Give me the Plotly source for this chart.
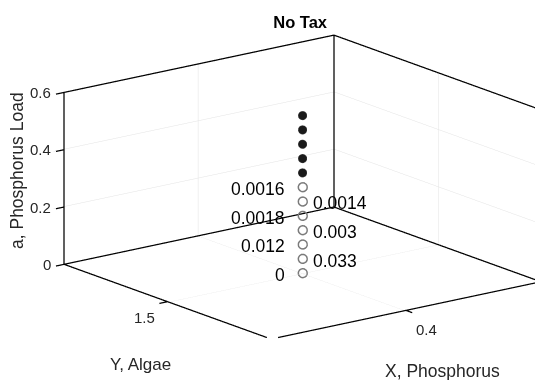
import plotly.graph_objects as go

# Single (X, Y) location, phosphorus load levels stacked along a
x_val = 0.4
y_val = 1.5
a_open = [0.0, 0.05, 0.10, 0.15, 0.20, 0.25, 0.30]
a_filled = [0.35, 0.40, 0.45, 0.50, 0.55]
open_labels = ["0", "0.033", "0.012", "0.003", "0.0018", "0.0014", "0.0016"]
label_on_left = [True, False, True, False, True, False, True]

# Axis limits and ticks
x_range = [0.35, 0.45]
y_range = [1.45, 1.55]
z_range = [0.0, 0.6]
x_ticks = [0.4]
x_ticktext = ["0.4"]
y_ticks = [1.5]
y_ticktext = ["1.5"]
z_ticks = [0.0, 0.2, 0.4, 0.6]
z_ticktext = ["0", "0.2", "0.4", "0.6"]

FONT = "Liberation Sans, Arial, sans-serif"
AXIS_GREY = "#262626"

fig = go.Figure()

dx = x_range[1] - x_range[0]
dy = y_range[1] - y_range[0]
dz = z_range[1] - z_range[0]

# Tick marks stick out of the box on the front (low x / low y) side, so the
# scene range is widened there a little to keep them from being clipped;
# a tiny margin on every side keeps the box edges clear of the clip planes.
tick_frac = 0.03
pad = 1.05 * tick_frac
eps = 0.004
scene_x_range = [x_range[0] - (pad + eps) * dx, x_range[1] + eps * dx]
scene_y_range = [y_range[0] - (pad + eps) * dy, y_range[1] + eps * dy]
scene_z_range = [z_range[0] - eps * dz, z_range[1] + eps * dz]

# Box edges on the three back planes (the three edges meeting at the
# front-top corner (xmin, ymin, zmax) are left out)
xs, ys, zs = [], [], []
corners = [(i, j, k) for i in (0, 1) for j in (0, 1) for k in (0, 1)]
front_top = (0, 0, 1)
for c1 in corners:
    for c2 in corners:
        if c1 < c2 and sum(a != b for a, b in zip(c1, c2)) == 1:
            if front_top in (c1, c2):
                continue
            for c in (c1, c2):
                xs.append(x_range[c[0]])
                ys.append(y_range[c[1]])
                zs.append(z_range[c[2]])
            xs.append(None); ys.append(None); zs.append(None)

# Outward tick marks on the three labelled axis edges
for v in z_ticks:
    xs += [x_range[0], x_range[0] - tick_frac * dx, None]
    ys += [y_range[1], y_range[1], None]
    zs += [v, v, None]
for v in y_ticks:
    xs += [x_range[0], x_range[0] - tick_frac * dx, None]
    ys += [v, v, None]
    zs += [z_range[0], z_range[0], None]
for v in x_ticks:
    xs += [v, v, None]
    ys += [y_range[0], y_range[0] - tick_frac * dy, None]
    zs += [z_range[0], z_range[0], None]

fig.add_trace(go.Scatter3d(x=xs, y=ys, z=zs, mode="lines",
                           line=dict(color="#000000", width=2.5),
                           hoverinfo="skip", showlegend=False))

fig.add_trace(go.Scatter3d(
    x=[x_val] * len(a_open), y=[y_val] * len(a_open), z=a_open,
    mode="markers",
    marker=dict(symbol="circle-open", size=5.6, color="#7a7a7a",
                line=dict(color="#7a7a7a", width=2)),
    hoverinfo="skip", showlegend=False))

fig.add_trace(go.Scatter3d(
    x=[x_val] * len(a_filled), y=[y_val] * len(a_filled), z=a_filled,
    mode="markers",
    marker=dict(symbol="circle", size=5.0, color="#1a1a1a",
                line=dict(color="#404040", width=1)),
    hoverinfo="skip", showlegend=False))

axis_common = dict(showbackground=False, gridcolor="#e3e3e3", gridwidth=1,
                   zeroline=False, showline=False, showspikes=False,
                   ticks="", showticklabels=False, title=dict(text=""))

# Gridlines only at interior ticks (the limits coincide with box edges)
z_grid = [v for v in z_ticks if z_range[0] < v < z_range[1]]

# Horizontal tick labels placed at the tick positions in data space
tick_font = dict(family=FONT, size=15, color=AXIS_GREY)
scene_annotations = []
for v, t in zip(z_ticks, z_ticktext):
    scene_annotations.append(dict(
        x=x_range[0], y=y_range[1], z=v, text=t, showarrow=False,
        xanchor="right", yanchor="middle", xshift=-11, font=tick_font))
for v, t in zip(y_ticks, y_ticktext):
    scene_annotations.append(dict(
        x=x_range[0], y=v, z=z_range[0], text=t, showarrow=False,
        xanchor="center", yanchor="middle", xshift=-23, yshift=-16,
        font=tick_font))
for v, t in zip(x_ticks, x_ticktext):
    scene_annotations.append(dict(
        x=v, y=y_range[0], z=z_range[0], text=t, showarrow=False,
        xanchor="center", yanchor="middle", xshift=21, yshift=-19,
        font=tick_font))

# Value labels beside the open markers, alternating sides
label_font = dict(family=FONT, size=17.5, color="#000000")
for a, t, left in zip(a_open, open_labels, label_on_left):
    scene_annotations.append(dict(
        x=x_val, y=y_val, z=a, text=t, showarrow=False,
        xanchor="right" if left else "left", yanchor="middle",
        xshift=-15 if left else 9, yshift=-2, font=label_font))

# View direction (from the box centre towards the viewer) and distance
view_dir = (-0.585, -0.763, 0.277)
view_dist = 1.062
shift = 0.184
box_scale = 1.79
look_at = (-shift * 0.794 + pad / 2 * box_scale,
           shift * 0.609 + pad / 2 * box_scale,
           -0.016)

fig.update_layout(
    width=535, height=380,
    margin=dict(l=0, r=0, t=0, b=0),
    paper_bgcolor="white",
    title=dict(text="<b>No Tax</b>", x=0.561, xanchor="center",
               y=0.942, yanchor="middle",
               font=dict(family=FONT, size=16.5, color="#000000")),
    scene=dict(
        domain=dict(x=[0, 1], y=[0, 1]),
        xaxis=dict(range=scene_x_range, tickvals=x_ticks, **axis_common),
        yaxis=dict(range=scene_y_range, tickvals=y_ticks, **axis_common),
        zaxis=dict(range=scene_z_range, tickvals=z_grid, **axis_common),
        aspectmode="manual",
        aspectratio=dict(x=box_scale * (1 + pad + 2 * eps),
                         y=box_scale * (1 + pad + 2 * eps),
                         z=0.526 * box_scale * (1 + 2 * eps)),
        camera=dict(projection=dict(type="orthographic"),
                    up=dict(x=0, y=0, z=1),
                    center=dict(x=look_at[0], y=look_at[1], z=look_at[2]),
                    eye=dict(x=look_at[0] + view_dir[0] * view_dist,
                             y=look_at[1] + view_dir[1] * view_dist,
                             z=look_at[2] + view_dir[2] * view_dist)),
        annotations=scene_annotations,
    ),
    annotations=[
        dict(text="X, Phosphorus", x=442 / 535, y=1 - 371 / 380,
             xref="paper", yref="paper", showarrow=False,
             xanchor="center", yanchor="middle",
             font=dict(family=FONT, size=17.5, color=AXIS_GREY)),
        dict(text="Y, Algae", x=140 / 535, y=1 - 364 / 380,
             xref="paper", yref="paper", showarrow=False,
             xanchor="center", yanchor="middle",
             font=dict(family=FONT, size=17, color=AXIS_GREY)),
        dict(text="a, Phosphorus Load", x=17 / 535, y=1 - 171 / 380,
             xref="paper", yref="paper", showarrow=False, textangle=-90,
             xanchor="center", yanchor="middle",
             font=dict(family=FONT, size=17.5, color=AXIS_GREY)),
    ],
)

fig.write_html("out.html")
